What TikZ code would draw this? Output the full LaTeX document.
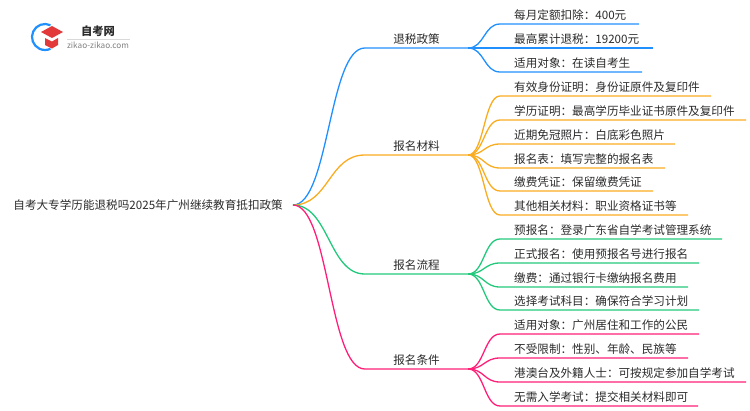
\documentclass[tikz,border=0pt]{standalone}
\usepackage{fontspec}
\setmainfont{Noto Sans CJK SC}
\usetikzlibrary{positioning}
\definecolor{cblue}{HTML}{2090FF}
\definecolor{corange}{HTML}{FAAC20}
\definecolor{cgreen}{HTML}{22C97C}
\definecolor{cpink}{HTML}{FF1F78}
\definecolor{clogo}{HTML}{E23A3A}
\definecolor{ctext}{HTML}{2B2B2B}
\tikzset{x=1pt,y=-1pt,
  every node/.style={text=ctext,font=\fontsize{11.6pt}{14pt}\selectfont},
  rootnode/.style={anchor=east,inner xsep=10pt,inner ysep=0pt},
  branch/.style={anchor=south,minimum width=103pt,inner xsep=0pt,inner ysep=3pt},
  leaf/.style={anchor=base west,inner sep=0pt},
  conn/.style={line width=1.3pt}}
\begin{document}
\begin{tikzpicture}
  \useasboundingbox (0,0) rectangle (750,410);
  % logo
  \draw[cblue,line width=2.2pt] (50.5,25.2) arc[start angle=-65,end angle=-295,radius=13];
  \fill[clogo] (41,32) -- (52,26) -- (63,32) -- (52,38) -- cycle;
  \fill[clogo] (45,38) -- (52,41.5) -- (58,38) -- (58,45) -- (52,48.5) -- (45,45) -- cycle;
  \node[font=\fontsize{11.3pt}{13pt}\selectfont\bfseries] (logoname) at (98,31) {自考网};
  \node[font=\fontsize{8.2pt}{9pt}\selectfont,text=gray] (logourl) at (98,45.5) {zikao-zikao.com};
  \coordinate (rulea) at (67,39);
  \coordinate (ruleb) at (130,39);
  \draw[black!15,line width=.6pt] (rulea) -- (ruleb);
  \node[rootnode] (root) at (293,205) {自考大专学历能退税吗2025年广州继续教育抵扣政策};
  \foreach \n/\c/\y/\t in {1/cblue/48/退税政策,2/corange/155/报名材料,3/cgreen/274/报名流程,4/cpink/369/报名条件}{
    \node[branch] (b\n) at (416.5,\y) {\t};
    \draw[conn,\c] (root.east) .. controls +(36,0) and +(-36,0) .. (b\n.south west) -- (b\n.south east);
  }
  \foreach \n/\p/\c/\y/\e/\t in {
    1/1/cblue/24/639/每月定额扣除：400元,
    2/1/cblue/48/653/最高累计退税：19200元,
    3/1/cblue/72/642/适用对象：在读自考生,
    4/2/corange/96/711/有效身份证明：身份证原件及复印件,
    5/2/corange/120/746/学历证明：最高学历毕业证书原件及复印件,
    6/2/corange/144/675/近期免冠照片：白底彩色照片,
    7/2/corange/168/665/报名表：填写完整的报名表,
    8/2/corange/191/653/缴费凭证：保留缴费凭证,
    9/2/corange/215/688/其他相关材料：职业资格证书等,
    10/3/cgreen/239/722/预报名：登录广东省自学考试管理系统,
    11/3/cgreen/263/699/正式报名：使用预报名号进行报名,
    12/3/cgreen/287/688/缴费：通过银行卡缴纳报名费用,
    13/3/cgreen/310/699/选择考试科目：确保符合学习计划,
    14/4/cpink/334/699/适用对象：广州居住和工作的公民,
    15/4/cpink/358/688/不受限制：性别、年龄、民族等,
    16/4/cpink/382/746/港澳台及外籍人士：可按规定参加自学考试,
    17/4/cpink/406/698/无需入学考试：提交相关材料即可}{
    \node[leaf] (l\n) at (514,\y-5) {\t};
    \coordinate (s\n) at (500,\y);
    \coordinate (e\n) at (\e,\y);
    \draw[conn,\c] (b\p.south east) .. controls +(16,0) and +(-16,0) .. (s\n) -- (e\n);
  }
\end{tikzpicture}
\end{document}
